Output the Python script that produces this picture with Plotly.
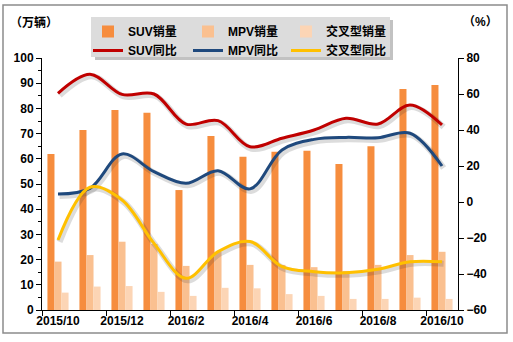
import plotly.graph_objects as go
import numpy as np

months = ["2015/10", "2015/11", "2015/12", "2016/1", "2016/2", "2016/3", "2016/4",
          "2016/5", "2016/6", "2016/7", "2016/8", "2016/9", "2016/10"]
tick_labels = ["2015/10", "2015/12", "2016/2", "2016/4", "2016/6", "2016/8", "2016/10"]

suv_sales = [61.9, 71.4, 79.4, 78.3, 47.6, 69.0, 60.8, 62.8, 63.2, 57.9, 65.0, 87.7, 89.3]
mpv_sales = [19.2, 21.8, 27.1, 26.2, 17.5, 23.0, 17.9, 17.9, 17.0, 15.5, 17.9, 21.8, 23.1]
cross_sales = [6.9, 9.3, 9.5, 7.2, 5.6, 8.8, 8.6, 6.3, 5.6, 4.4, 4.4, 4.9, 4.4]

suv_yoy = [60.4, 71.0, 59.8, 60.0, 43.3, 45.2, 30.7, 35.4, 40.0, 46.5, 43.3, 53.9, 42.8]
mpv_yoy = [4.4, 7.6, 26.7, 16.9, 10.4, 17.4, 7.3, 28.9, 34.8, 35.9, 35.7, 38.2, 20.0]
cross_yoy = [-21.1, 8.2, 1.1, -23.0, -42.4, -27.6, -22.0, -35.9, -38.7, -39.3, -37.4, -33.2, -33.2]

x = list(range(len(months)))

FONT = "Liberation Sans, Arial, Noto Sans CJK SC"

W, H = 513, 342
ml, mr, mt, mb = 42, 55, 58, 32
pw, ph = W - ml - mr, H - mt - mb

def px(xp):
    return (xp - ml) / pw

def py(yp):
    return (H - mb - yp) / ph

fig = go.Figure()

legend_ids = ["legend", "legend2", "legend3"]

bar_specs = [("SUV销量", suv_sales, "#F68D3E"),
             ("MPV销量", mpv_sales, "#FAC090"),
             ("交叉型销量", cross_sales, "#FCD5B5")]
for i, (name, vals, col) in enumerate(bar_specs):
    fig.add_trace(go.Bar(x=x, y=vals, name=name, marker=dict(color=col, line=dict(width=0)),
                         yaxis="y", legend=legend_ids[i], legendrank=1, hovertext=months))

line_specs = [("SUV同比", suv_yoy, "#C00000"),
              ("MPV同比", mpv_yoy, "#1F497D"),
              ("交叉型同比", cross_yoy, "#FFC000")]
for i, (name, vals, col) in enumerate(line_specs):
    shadow = np.array(vals) - 1.1
    fig.add_trace(go.Scatter(x=np.array(x) + 0.05, y=shadow, mode="lines", yaxis="y2",
                             line=dict(color="rgba(60,60,60,0.18)", width=6, shape="spline", smoothing=1.0),
                             showlegend=False, hoverinfo="skip"))
    fig.add_trace(go.Scatter(x=x, y=vals, name=name, mode="lines", yaxis="y2", legend=legend_ids[i],
                             legendrank=2, line=dict(color=col, width=3, shape="spline", smoothing=1.0)))

tickfont = dict(family=FONT, size=12, color="#000000", weight="bold")
legfont = dict(family=FONT, size=12, weight="bold", color="#000000")

def leg(xpix):
    return dict(orientation="v", x=px(xpix), y=py(17), xanchor="left", yanchor="top",
                bgcolor="rgba(0,0,0,0)", font=legfont, traceorder="normal", itemwidth=30,
                tracegroupgap=0)

fig.update_layout(
    width=W, height=H,
    margin=dict(l=ml, r=mr, t=mt, b=mb),
    paper_bgcolor="white", plot_bgcolor="white",
    barmode="group", bargap=0.34, bargroupgap=0,
    font=dict(family=FONT, size=12, color="#000000"),
    xaxis=dict(range=[-0.5, 12.5], tickmode="array", tickvals=[0, 2, 4, 6, 8, 10, 12],
               ticktext=tick_labels, ticks="", showline=True, linecolor="#000000", linewidth=1,
               showgrid=False, zeroline=False, tickfont=tickfont,
               minor=dict(tickmode="linear", tick0=-0.5, dtick=2, ticks="outside", ticklen=5,
                          tickcolor="#000000", showgrid=False)),
    yaxis=dict(range=[0, 100], dtick=10, ticks="outside", ticklen=5, tickcolor="#000000",
               showline=True, linecolor="#000000", linewidth=1, showgrid=False, zeroline=False,
               tickfont=tickfont,
               minor=dict(dtick=5, ticks="outside", ticklen=3, tickcolor="#000000", showgrid=False)),
    yaxis2=dict(range=[-60, 80], dtick=20, overlaying="y", side="right", ticks="outside",
                ticklen=5, tickcolor="#000000", showline=True, linecolor="#000000", linewidth=1,
                showgrid=False, zeroline=False, tickfont=tickfont),
    legend=leg(88),
    legend2=leg(188),
    legend3=leg(286),
    showlegend=True,
)

# legend box with shadow
fig.add_shape(type="rect", xref="paper", yref="paper", x0=px(95), x1=px(393), y0=py(60), y1=py(20),
              fillcolor="rgba(120,120,120,0.45)", line=dict(width=0), layer="above")
fig.add_shape(type="rect", xref="paper", yref="paper", x0=px(91), x1=px(390), y0=py(57), y1=py(17),
              fillcolor="#DCDCDC", line=dict(width=0), layer="above")
# outer border
fig.add_shape(type="rect", xref="paper", yref="paper", x0=px(3), x1=px(507), y0=py(333), y1=py(5),
              fillcolor="rgba(0,0,0,0)", line=dict(color="#8C8C8C", width=1.5), layer="above")

fig.add_annotation(text="（万辆）", xref="paper", yref="paper", x=px(8), y=py(22), xanchor="left",
                   yanchor="middle", showarrow=False, font=legfont)
fig.add_annotation(text="（%）", xref="paper", yref="paper", x=px(500), y=py(22), xanchor="right",
                   yanchor="middle", showarrow=False, font=legfont)

fig.write_html("out.html")
